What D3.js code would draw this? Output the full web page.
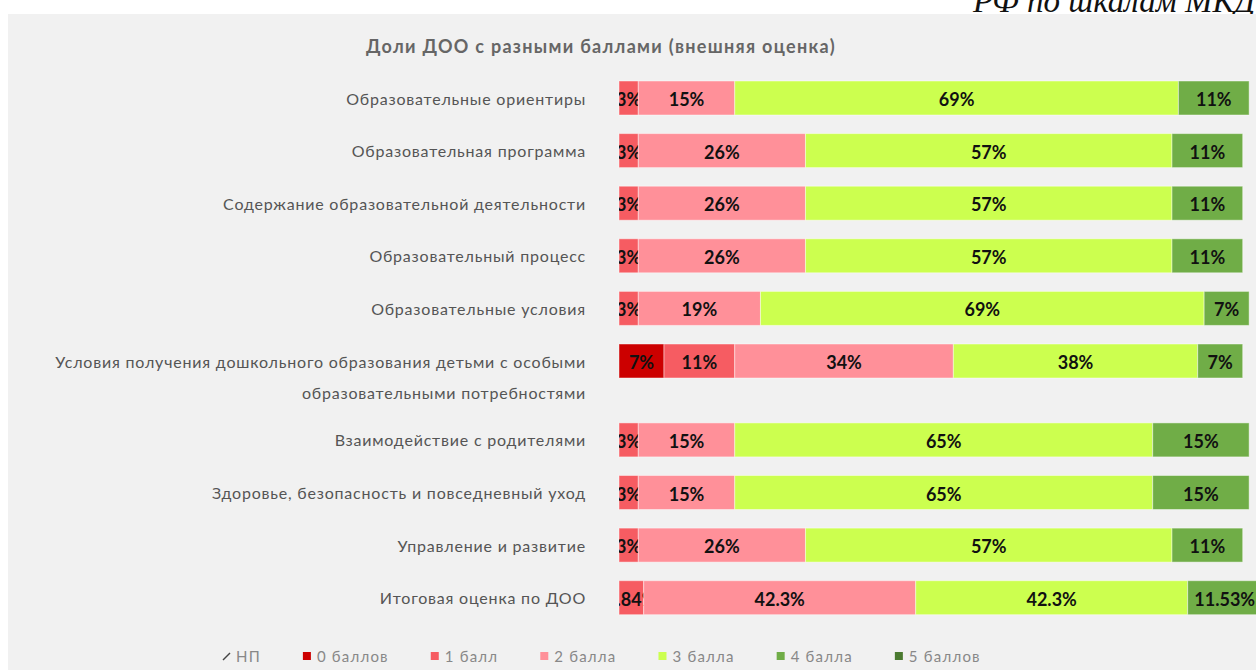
<!DOCTYPE html>
<html>
<head>
<meta charset="utf-8">
<script src="https://cdn.jsdelivr.net/npm/d3@7"></script>
<style>
  html, body { margin: 0; padding: 0; background: #fff; overflow: hidden; }
</style>
</head>
<body>
<div id="chart"></div>
<script>
// ---- data ----
const categories = [
  ["Образовательные ориентиры"],
  ["Образовательная программа"],
  ["Содержание образовательной деятельности"],
  ["Образовательный процесс"],
  ["Образовательные условия"],
  ["Условия получения дошкольного образования детьми с особыми", "образовательными потребностями"],
  ["Взаимодействие с родителями"],
  ["Здоровье, безопасность и повседневный уход"],
  ["Управление и развитие"],
  ["Итоговая оценка по ДОО"]
];
const scoreNP = [0, 0, 0, 0, 0, 0, 0, 0, 0, 0];
const score0 = [0, 0, 0, 0, 0, 7, 0, 0, 0, 0];
const score1 = [3, 3, 3, 3, 3, 11, 3, 3, 3, 3.84];
const score2 = [15, 26, 26, 26, 19, 34, 15, 15, 26, 42.3];
const score3 = [69, 57, 57, 57, 69, 38, 65, 65, 57, 42.3];
const score4 = [11, 11, 11, 11, 7, 7, 15, 15, 11, 11.53];
const score5 = [0, 0, 0, 0, 0, 0, 0, 0, 0, 0];
const seriesKeys = ["np", "s0", "s1", "s2", "s3", "s4", "s5"];
const legendNames = ["НП", "0 баллов", "1 балл", "2 балла", "3 балла", "4 балла", "5 баллов"];
const seriesColors = ["#999999", "#cc0000", "#f65c62", "#ff9099", "#ccff4f", "#70ad47", "#4b7a30"];
const chartTitle = "Доли ДОО с разными баллами (внешняя оценка)";
const topText = "РФ по шкалам МКДО";

const W = 1256, H = 670;
const FONT = "Lato, 'Noto Sans', sans-serif";

const table = categories.map((c, i) => ({
  index: i,
  lines: c,
  np: scoreNP[i], s0: score0[i], s1: score1[i], s2: score2[i],
  s3: score3[i], s4: score4[i], s5: score5[i]
}));

// each row takes (lines + 1) vertical units
let acc = 0;
table.forEach(d => { d.start = acc; acc += d.lines.length + 1; });
const totalUnits = acc;

const svg = d3.select("#chart").append("svg")
  .attr("width", W)
  .attr("height", H)
  .style("display", "block");

svg.append("text")
  .attr("x", 973)
  .attr("y", 12)
  .attr("font-family", "'Liberation Serif', serif")
  .attr("font-style", "italic")
  .attr("font-size", 33)
  .attr("fill", "#111")
  .text(topText);

svg.append("rect")
  .attr("x", 8).attr("y", 14)
  .attr("width", W - 8).attr("height", H - 14)
  .attr("fill", "#f1f1f1");

svg.append("text")
  .attr("x", 601)
  .attr("y", 46)
  .attr("text-anchor", "middle")
  .attr("dominant-baseline", "central")
  .attr("font-family", FONT)
  .attr("font-weight", "bold")
  .attr("font-size", 18)
  .attr("letter-spacing", 1.3)
  .attr("fill", "#666")
  .text(chartTitle);

const x = d3.scaleLinear().domain([0, 100]).range([619, 1262]);
const y = d3.scaleLinear().domain([0, totalUnits]).range([81, 81 + totalUnits * 26.3]);
const barH = 34;
const color = d3.scaleOrdinal().domain(seriesKeys).range(seriesColors);

// category labels
const labels = svg.append("g").selectAll("text")
  .data(table)
  .join("text")
  .attr("text-anchor", "end")
  .attr("font-family", FONT)
  .attr("font-size", 16)
  .attr("letter-spacing", 0.8)
  .attr("fill", "#555");

labels.selectAll("tspan")
  .data(d => d.lines.map((t, k) => ({ t, k, row: d })))
  .join("tspan")
  .attr("x", 586)
  .attr("y", d => y(d.row.start) + barH / 2 + d.k * 31)
  .attr("dominant-baseline", "central")
  .text(d => d.t);

// stacked bars
const stacked = d3.stack().keys(seriesKeys)(table);
const segs = [];
stacked.forEach(layer => {
  layer.forEach(p => {
    const v = p.data[layer.key];
    if (v > 0) segs.push({ key: layer.key, x0: p[0], x1: p[1], value: v, row: p.data });
  });
});

const defs = svg.append("defs");
defs.selectAll("clipPath")
  .data(segs)
  .join("clipPath")
  .attr("id", (d, i) => "seg-clip-" + i)
  .append("rect")
  .attr("x", d => x(d.x0))
  .attr("y", d => y(d.row.start))
  .attr("width", d => x(d.x1) - x(d.x0))
  .attr("height", barH);

const segG = svg.append("g").selectAll("g")
  .data(segs)
  .join("g");

segG.append("rect")
  .attr("x", d => x(d.x0))
  .attr("y", d => y(d.row.start))
  .attr("width", d => x(d.x1) - x(d.x0))
  .attr("height", barH)
  .attr("fill", d => color(d.key))
  .attr("stroke", "rgba(255,255,255,0.45)")
  .attr("stroke-width", 1);

segG.append("text")
  .attr("clip-path", (d, i) => `url(#seg-clip-${i})`)
  .attr("x", d => (x(d.x0) + x(d.x1)) / 2)
  .attr("y", d => y(d.row.start) + barH / 2 + 1)
  .attr("text-anchor", "middle")
  .attr("dominant-baseline", "central")
  .attr("font-family", FONT)
  .attr("font-weight", "bold")
  .attr("font-size", 18)
  .attr("fill", "#111")
  .text(d => d.value + "%");

// legend
const legend = svg.append("g");
let lx = 222;
const ly = 656;
seriesKeys.forEach((k, i) => {
  const item = legend.append("g");
  if (k === "np") {
    item.append("line")
      .attr("x1", lx + 1).attr("y1", ly + 4)
      .attr("x2", lx + 8).attr("y2", ly - 3)
      .attr("stroke", "#444").attr("stroke-width", 1.5);
  } else {
    item.append("rect")
      .attr("x", lx).attr("y", ly - 4)
      .attr("width", 8).attr("height", 8)
      .attr("fill", color(k));
  }
  const t = item.append("text")
    .attr("x", lx + 14)
    .attr("y", ly)
    .attr("dominant-baseline", "central")
    .attr("font-family", FONT)
    .attr("font-size", 15)
    .attr("letter-spacing", 1.2)
    .attr("fill", "#888")
    .text(legendNames[i]);
  lx += 14 + t.node().getComputedTextLength() + 42;
});
</script>
</body>
</html>
